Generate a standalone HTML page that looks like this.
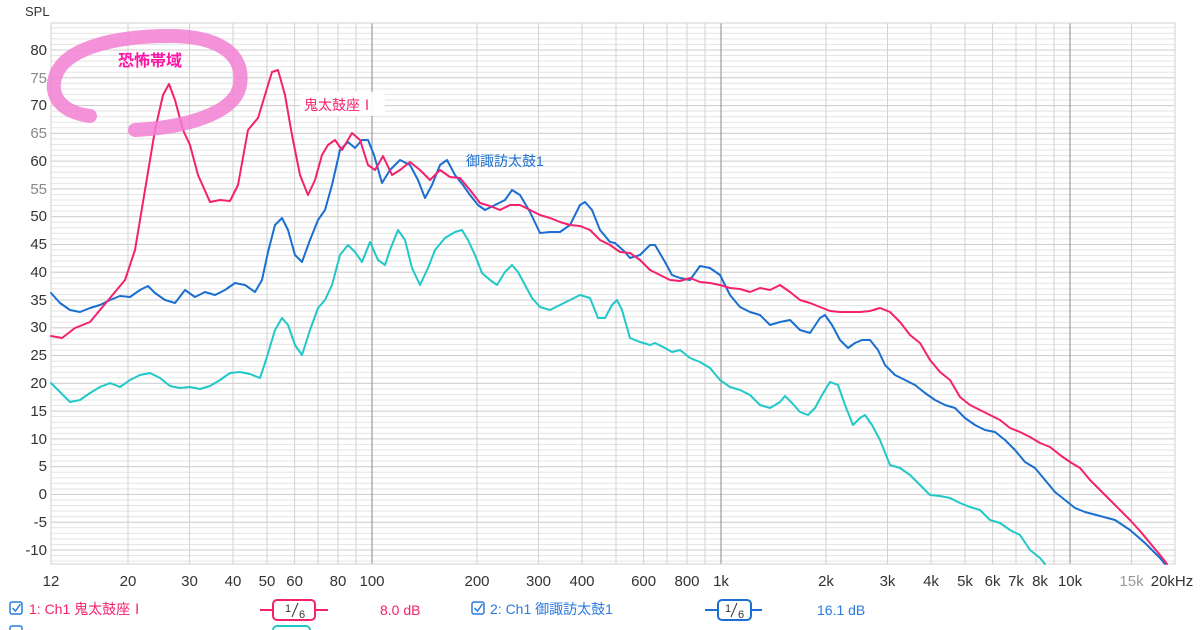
<!DOCTYPE html>
<html><head><meta charset="utf-8"><style>
body{margin:0;background:#fff;width:1200px;height:630px;overflow:hidden;font-family:"Liberation Sans","Noto Sans CJK JP",sans-serif}
</style></head><body>
<svg width="1200" height="630" xmlns="http://www.w3.org/2000/svg" style="position:absolute;left:0;top:0">
<defs>
<pattern id="p1" patternUnits="userSpaceOnUse" x="0" y="49.5" width="10" height="5.5556"><rect x="0" y="0" width="10" height="1" fill="#e4e4e4"/></pattern>
<pattern id="p5" patternUnits="userSpaceOnUse" x="0" y="49.5" width="10" height="27.778"><rect x="0" y="0" width="10" height="1" fill="#cfcfcf"/></pattern>
</defs>
<rect x="51" y="23" width="1124" height="541" fill="url(#p1)"/>
<rect x="51" y="23" width="1124" height="541" fill="url(#p5)"/>
<g stroke="#d2d2d2" stroke-width="1">
<line x1="128" y1="23" x2="128" y2="564"/><line x1="189.5" y1="23" x2="189.5" y2="564"/><line x1="233" y1="23" x2="233" y2="564"/><line x1="267" y1="23" x2="267" y2="564"/><line x1="294.6" y1="23" x2="294.6" y2="564"/><line x1="318" y1="23" x2="318" y2="564"/><line x1="338" y1="23" x2="338" y2="564"/><line x1="356" y1="23" x2="356" y2="564"/>
<line x1="477" y1="23" x2="477" y2="564"/><line x1="538.5" y1="23" x2="538.5" y2="564"/><line x1="582" y1="23" x2="582" y2="564"/><line x1="616" y1="23" x2="616" y2="564"/><line x1="643.6" y1="23" x2="643.6" y2="564"/><line x1="667" y1="23" x2="667" y2="564"/><line x1="687" y1="23" x2="687" y2="564"/><line x1="705" y1="23" x2="705" y2="564"/>
<line x1="826" y1="23" x2="826" y2="564"/><line x1="887.5" y1="23" x2="887.5" y2="564"/><line x1="931" y1="23" x2="931" y2="564"/><line x1="965" y1="23" x2="965" y2="564"/><line x1="992.6" y1="23" x2="992.6" y2="564"/><line x1="1016" y1="23" x2="1016" y2="564"/><line x1="1036" y1="23" x2="1036" y2="564"/><line x1="1054" y1="23" x2="1054" y2="564"/>
<line x1="1131.5" y1="23" x2="1131.5" y2="564"/>
</g>
<g stroke="#8a8a8a" stroke-width="1"><line x1="372" y1="23" x2="372" y2="564"/><line x1="721" y1="23" x2="721" y2="564"/><line x1="1070" y1="23" x2="1070" y2="564"/></g>
<rect x="51" y="23" width="1124" height="541" fill="none" stroke="#d0d0d0"/>
<text x="25" y="16" font-size="13" fill="#333">SPL</text>
<g font-size="15" fill="#333" text-anchor="end">
<text x="47" y="55">80</text><text x="47" y="83" fill="#888">75</text><text x="47" y="110">70</text><text x="47" y="138" fill="#888">65</text><text x="47" y="166">60</text><text x="47" y="194" fill="#888">55</text><text x="47" y="221">50</text><text x="47" y="249">45</text><text x="47" y="277">40</text><text x="47" y="305">35</text><text x="47" y="332">30</text><text x="47" y="360">25</text><text x="47" y="388">20</text><text x="47" y="416">15</text><text x="47" y="444">10</text><text x="47" y="471">5</text><text x="47" y="499">0</text><text x="47" y="527">-5</text><text x="47" y="555">-10</text>
</g>
<g font-size="15" fill="#333" text-anchor="middle">
<text x="51" y="586">12</text><text x="128" y="586">20</text><text x="189.5" y="586">30</text><text x="233" y="586">40</text><text x="267" y="586">50</text><text x="294.6" y="586">60</text><text x="338" y="586">80</text><text x="372" y="586">100</text><text x="477" y="586">200</text><text x="538.5" y="586">300</text><text x="582" y="586">400</text><text x="643.6" y="586">600</text><text x="687" y="586">800</text><text x="721" y="586">1k</text><text x="826" y="586">2k</text><text x="887.5" y="586">3k</text><text x="931" y="586">4k</text><text x="965" y="586">5k</text><text x="992.6" y="586">6k</text><text x="1016" y="586">7k</text><text x="1040" y="586">8k</text><text x="1070" y="586">10k</text><text x="1131.5" y="586" fill="#999">15k</text><text x="1172" y="586">20kHz</text>
</g>
<g fill="none" stroke-width="2" stroke-linejoin="round" stroke-linecap="round">
<polyline stroke="#22c8c8" points="51,383 60,392 70,402 80,400 90,393 100,387 110,383 120,387 130,380 140,375 150,373 160,378 170,386 180,388 190,387 200,389 210,386 220,380 230,373 240,372 250,374 260,378 266,360 275,330 282,318 288,325 295,345 302,355 310,330 318,308 325,300 332,285 340,255 348,245 355,252 362,262 370,242 378,260 385,265 390,250 398,230 405,240 412,268 420,285 428,268 435,250 445,238 455,232 462,230 468,240 475,255 482,273 490,280 497,285 505,272 512,265 518,272 525,285 532,298 540,307 550,310 560,305 570,300 580,295 590,298 598,318 605,318 612,305 617,300 622,310 630,338 640,342 650,345 655,343 665,348 672,352 680,350 690,358 700,362 710,368 720,380 730,387 740,390 750,395 760,405 770,408 780,402 785,396 792,403 800,412 808,415 815,408 822,395 830,382 838,385 845,405 853,425 860,418 865,415 872,425 880,440 890,465 900,468 910,475 920,485 930,495 940,496 950,498 960,503 970,507 980,510 990,520 1000,523 1010,530 1020,535 1030,550 1040,558 1045,564"/>
<polyline stroke="#1a6fd0" points="51,293 60,303 70,310 80,312 90,308 100,305 110,300 120,296 130,297 140,290 148,286 155,293 165,300 175,303 185,290 195,297 205,292 215,295 225,290 235,283 245,285 255,292 262,280 268,252 275,225 282,218 288,230 295,255 302,262 310,240 318,220 325,210 332,185 340,150 348,142 355,148 362,140 368,140 374,155 382,183 390,170 400,160 410,165 418,180 425,198 432,185 440,165 447,160 455,175 463,185 470,195 478,205 485,210 495,205 505,200 512,190 520,195 530,212 540,233 550,232 560,232 570,225 580,205 585,202 592,210 600,230 610,242 615,243 625,252 630,258 640,255 650,245 655,245 665,262 672,275 680,278 690,280 700,266 710,268 720,275 730,295 740,307 750,312 760,315 770,325 780,322 790,320 800,330 810,333 820,318 825,315 832,325 840,340 848,348 855,343 862,340 870,340 878,350 885,365 895,375 905,380 915,385 925,393 935,400 945,405 955,408 965,418 975,425 985,430 995,432 1005,440 1015,450 1025,462 1035,468 1045,480 1055,492 1065,500 1075,508 1085,512 1100,516 1115,520 1130,530 1145,543 1160,558 1165,564"/>
<polyline stroke="#f5206e" points="51,336 62,338 75,328 90,322 100,310 115,292 125,280 135,250 145,190 155,130 163,95 169,84 175,100 183,130 190,145 198,175 210,202 220,200 230,201 238,185 248,130 258,118 265,95 272,72 278,70 285,95 292,135 300,175 308,195 315,180 322,155 328,145 335,140 342,150 352,133 360,140 368,165 375,170 383,156 392,175 400,170 410,162 420,170 430,180 440,170 450,177 460,178 470,190 480,203 490,206 500,210 510,205 520,205 530,210 540,215 550,218 560,222 570,225 580,226 590,230 600,240 610,245 620,252 630,253 640,260 650,270 660,275 670,280 680,281 690,278 700,282 710,283 720,285 730,288 740,289 750,292 760,288 770,290 780,285 790,292 800,300 810,303 820,307 830,311 840,312 850,312 860,312 870,311 880,308 890,312 900,322 910,335 920,343 930,360 940,372 950,380 960,397 970,405 980,410 990,415 1000,420 1010,428 1020,432 1030,437 1040,443 1050,447 1060,455 1070,462 1080,468 1090,480 1100,490 1110,500 1120,510 1130,520 1140,531 1150,543 1160,555 1167,564"/>
</g>
<path d="M90,116 C60,112 50,95 55,78 C62,50 110,36 170,36 C220,36 245,55 240,85 C235,115 180,128 135,130" fill="none" stroke="#f27fd4" stroke-opacity="0.85" stroke-width="14" stroke-linecap="round"/>
<text x="118" y="66" font-size="16" font-weight="bold" fill="#ff14a8">恐怖帯域</text>
<rect x="300" y="92" width="85" height="24" fill="#fff" opacity="0.9"/>
<text x="304" y="110" font-size="14" fill="#f5206e">鬼太鼓座Ⅰ</text>
<text x="466" y="166" font-size="14" fill="#1a6fd0">御諏訪太鼓1</text>
<g font-size="14">
<rect x="10" y="602" width="12" height="12" rx="2" fill="#fff" stroke="#2a7be0" stroke-width="1.5"/><path d="M12.5,608 l3,3 l5,-7" stroke="#2a7be0" stroke-width="1.5" fill="none"/>
<text x="29" y="614" fill="#f5206e">1: Ch1 鬼太鼓座Ⅰ</text>
<line x1="260" y1="610" x2="328" y2="610" stroke="#f5206e" stroke-width="2"/>
<rect x="273" y="600" width="42" height="20" rx="4" fill="#fff" stroke="#f5206e" stroke-width="2"/>
<text x="285" y="612" font-size="11" fill="#333">1</text><line x1="298" y1="603" x2="292" y2="617" stroke="#333" stroke-width="1"/><text x="299" y="618" font-size="11" fill="#333">6</text>
<text x="380" y="615" fill="#f5206e">8.0 dB</text>
<rect x="472" y="602" width="12" height="12" rx="2" fill="#fff" stroke="#2a7be0" stroke-width="1.5"/><path d="M474.5,608 l3,3 l5,-7" stroke="#2a7be0" stroke-width="1.5" fill="none"/>
<text x="490" y="614" fill="#2a7be0">2: Ch1 御諏訪太鼓1</text>
<line x1="705" y1="610" x2="762" y2="610" stroke="#1a6fd0" stroke-width="2"/>
<rect x="718" y="600" width="33" height="20" rx="4" fill="#fff" stroke="#1a6fd0" stroke-width="2"/>
<text x="725" y="612" font-size="11" fill="#333">1</text><line x1="737" y1="603" x2="731" y2="617" stroke="#333" stroke-width="1"/><text x="738" y="618" font-size="11" fill="#333">6</text>
<text x="817" y="615" fill="#2a7be0">16.1 dB</text>
<rect x="10" y="626" width="12" height="12" rx="2" fill="#fff" stroke="#2a7be0" stroke-width="1.5"/>
<rect x="273" y="626" width="37" height="20" rx="4" fill="#fff" stroke="#22c8c8" stroke-width="2"/>
</g>
</svg>
</body></html>
